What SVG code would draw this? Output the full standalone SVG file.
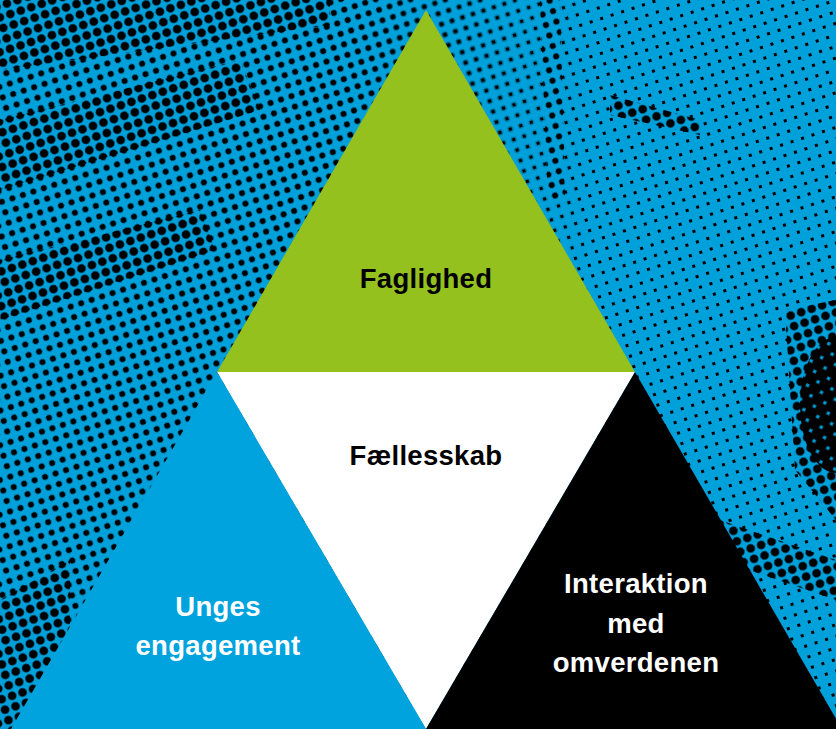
<svg xmlns="http://www.w3.org/2000/svg" width="836" height="729" viewBox="0 0 836 729">
  <defs>
    <style>
      .lbl { font-family: "Liberation Sans", Arial, sans-serif; font-weight: bold; font-size: 27.5px; text-anchor: middle; letter-spacing: 0.3px; }
      .dark { fill: #000000; }
      .light { fill: #ffffff; }
    </style>
    <pattern id="dotsS" width="11" height="11" patternUnits="userSpaceOnUse" patternTransform="rotate(-18)">
      <rect x="4" y="4" width="3" height="3" fill="#000"/>
    </pattern>
    <pattern id="dotsM" width="11" height="11" patternUnits="userSpaceOnUse" patternTransform="rotate(-18)">
      <circle cx="5.5" cy="5.5" r="3" fill="#000"/>
    </pattern>
    <pattern id="dotsL" width="11" height="11" patternUnits="userSpaceOnUse" patternTransform="rotate(-18)">
      <circle cx="5.5" cy="5.5" r="4.3" fill="#000"/>
    </pattern>
    <pattern id="dotsXL" width="11" height="11" patternUnits="userSpaceOnUse" patternTransform="rotate(-18)">
      <circle cx="5.5" cy="5.5" r="6.2" fill="#000"/>
    </pattern>
    <linearGradient id="fadeLR" x1="0" y1="0" x2="836" y2="0" gradientUnits="userSpaceOnUse">
      <stop offset="0" stop-color="#fff"/>
      <stop offset="0.42" stop-color="#fff"/>
      <stop offset="0.7" stop-color="#000"/>
      <stop offset="1" stop-color="#000"/>
    </linearGradient>
    <mask id="mMed">
      <rect width="836" height="729" fill="url(#fadeLR)"/>
    </mask>
  </defs>

  <g id="background">
    <rect width="836" height="729" fill="#00a0db"/>
    <rect width="836" height="729" fill="url(#dotsS)"/>
    <rect width="836" height="729" fill="url(#dotsM)" mask="url(#mMed)"/>
    <path d="M0,0 L330,0 L330,25 L0,70 Z" fill="url(#dotsL)"/>
    <path d="M0,120 L240,60 L260,110 L0,190 Z" fill="url(#dotsL)"/>
    <path d="M0,260 L200,210 L215,250 L0,320 Z" fill="url(#dotsL)"/>
    <path d="M0,600 L70,560 L70,729 L0,729 Z" fill="url(#dotsL)"/>
    <path d="M610,95 L700,120 L700,135 L610,115 Z" fill="url(#dotsL)"/>
    <path d="M540,0 L560,0 L565,200 L548,200 Z" fill="url(#dotsM)"/>
    <path d="M785,310 L836,300 L836,520 L795,470 Z" fill="url(#dotsL)"/>
    <ellipse cx="836" cy="405" rx="36" ry="68" fill="url(#dotsXL)"/>
    <path d="M720,520 L836,560 L836,600 L720,560 Z" fill="url(#dotsL)"/>
  </g>

  <g id="faglighed">
    <polygon points="426,10 217,372 635,372" fill="#95c11f"/>
    <text class="lbl dark" x="426" y="288">Faglighed</text>
  </g>

  <g id="faellesskab">
    <polygon points="217,372 635,372 426,729" fill="#ffffff"/>
    <text class="lbl dark" x="426" y="465">Fællesskab</text>
  </g>

  <g id="unges-engagement">
    <polygon points="217,372 11,729 426,729" fill="#00a3de"/>
    <text class="lbl light" x="218" y="616">Unges</text>
    <text class="lbl light" x="218" y="655">engagement</text>
  </g>

  <g id="interaktion">
    <polygon points="635,372 426,729 842,729" fill="#000000"/>
    <text class="lbl light" x="636" y="593">Interaktion</text>
    <text class="lbl light" x="636" y="633">med</text>
    <text class="lbl light" x="636" y="672">omverdenen</text>
  </g>

  <g id="connectors"/>
</svg>
